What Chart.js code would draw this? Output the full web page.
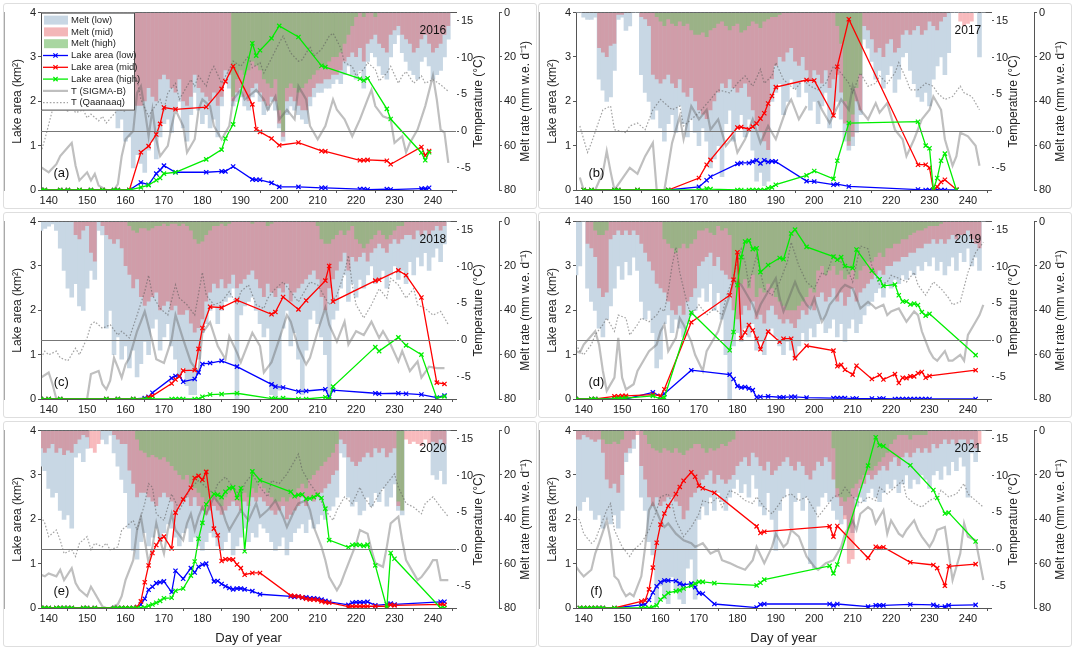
<!DOCTYPE html>
<html>
<head>
<meta charset="utf-8">
<script src="https://cdn.jsdelivr.net/npm/chart.js@4.4.1/dist/chart.umd.min.js"></script>
<style>
  html, body { margin: 0; padding: 0; background: #fff; }
  body { width: 1073px; height: 648px; position: relative; overflow: hidden; }
  .panel { position: absolute; border: 1px solid #dedede; border-radius: 3px; }
  .panel canvas { display: block; }
</style>
</head>
<body>
<div class="panel" style="left:3px;top:3px"><canvas id="c2016" width="532" height="204"></canvas></div>
<div class="panel" style="left:538px;top:3px"><canvas id="c2017" width="532" height="204"></canvas></div>
<div class="panel" style="left:3px;top:212px"><canvas id="c2018" width="532" height="204"></canvas></div>
<div class="panel" style="left:538px;top:212px"><canvas id="c2019" width="532" height="204"></canvas></div>
<div class="panel" style="left:3px;top:421px"><canvas id="c2020" width="532" height="224"></canvas></div>
<div class="panel" style="left:538px;top:421px"><canvas id="c2021" width="532" height="224"></canvas></div>
<script>
// ---- daily melt bars (mm w.e. per day), one value per day 138..244 ----
const BAR_DAYS = [
  138,139,140,141,142,143,144,145,146,147,
  148,149,150,151,152,153,154,155,156,157,
  158,159,160,161,162,163,164,165,166,167,
  168,169,170,171,172,173,174,175,176,177,
  178,179,180,181,182,183,184,185,186,187,
  188,189,190,191,192,193,194,195,196,197,
  198,199,200,201,202,203,204,205,206,207,
  208,209,210,211,212,213,214,215,216,217,
  218,219,220,221,222,223,224,225,226,227,
  228,229,230,231,232,233,234,235,236,237,
  238,239,240,241,242,243,244];

const MELT_LOW_2016 = [
  20,25,30,15,10,30,25,20,35,30, 20,15,25,30,35,30,20,40,35,38,
  52,48,58,56,70,64,68,72,62,58, 66,56,50,48,54,44,40,52,58,46,
  36,44,50,46,52,48,56,42,30,34, 42,40,38,42,44,38,36,40,46,44,
  40,44,52,58,46,42,44,46,48,50, 42,38,36,36,34,34,32,30,32,28,
  24,28,30,26,34,22,18,20,24,28, 30,20,14,10,18,22,26,28,30,22,
  20,24,30,28,26,20,12];
const MELT_MID_2016 = [
  5,8,10,6,4,10,8,6,12,10, 6,5,8,10,12,10,6,14,12,14,
  30,30,35,40,42,42,42,40,34,38, 40,30,28,30,34,36,30,40,42,38,
  28,34,36,38,40,36,42,38,26,28, 40,36,34,38,40,34,32,36,40,42,
  38,40,50,56,40,38,40,42,44,44, 38,34,32,32,30,30,28,28,26,22,
  20,18,20,16,22,14,12,10,14,16, 18,10,8,6,10,12,14,18,16,12,
  10,14,18,16,14,10,6];
const MELT_HIGH_2016 = [
  0,0,0,0,0,0,0,0,0,0, 0,0,0,0,0,0,0,0,0,0,
  0,0,0,0,0,0,0,0,0,0, 0,0,0,0,0,0,0,0,0,0,
  0,0,0,0,0,0,0,0,0,0, 38,30,26,28,26,22,24,26,30,32,
  34,30,44,54,34,32,34,36,34,32, 30,28,26,24,24,22,20,20,18,14,
  10,6,2,0,2,0,0,2,0,0, 0,0,0,0,0,0,0,0,0,0,
  0,0,0,0,0,0,0];

const MELT_LOW_2017 = [
  0,0,2,3,3,2,30,35,40,38, 26,3,2,8,6,0,0,28,36,40,
  48,44,52,58,50,46,54,42,50,56, 48,54,60,52,58,70,66,60,74,50,
  44,58,52,46,56,48,62,76,72,78, 76,40,36,32,46,40,30,34,38,30,
  36,44,40,50,42,36,52,44,40,48, 58,62,60,54,46,12,16,22,30,26,
  34,28,24,36,30,20,18,26,32,38, 40,36,42,30,24,20,28,18,0,0,
  0,0,0,0,0,20,0];
const MELT_MID_2017 = [
  0,0,0,0,0,0,16,18,20,15, 14,1,1,0,0,0,0,2,3,6,
  28,30,32,30,28,32,34,30,36,38, 34,40,44,46,48,44,40,36,32,34,
  30,34,36,34,32,38,44,50,54,58, 62,30,24,20,22,18,16,22,24,20,
  26,30,26,28,32,26,34,30,28,36, 50,60,56,40,44,6,8,12,18,16,
  20,14,12,18,16,10,8,10,8,6, 10,8,4,6,8,4,2,0,0,0,
  4,6,5,4,0,0,0];
const MELT_HIGH_2017 = [
  0,0,0,0,0,0,0,0,0,0, 0,0,0,0,0,0,0,0,0,0,
  0,2,4,6,3,5,6,4,6,5, 8,10,10,9,11,8,7,5,4,6,
  8,6,5,9,8,6,4,5,7,4, 3,2,2,1,0,0,0,0,0,0,
  0,0,0,0,0,0,0,0,6,14, 40,58,46,34,28,0,0,0,0,0,
  0,0,0,0,0,0,0,0,0,0, 0,0,0,0,0,0,0,0,0,0,
  0,0,0,0,0,0,0];

const MELT_LOW_2018 = [
  4,3,2,1,4,12,22,30,34,28, 38,40,30,22,26,4,6,48,40,60,
  52,62,56,66,58,70,64,54,60,48, 44,58,52,46,56,62,70,66,74,78,
  78,62,50,46,40,38,46,40,36,34, 30,80,42,38,36,34,40,46,52,48,
  78,80,76,48,40,56,50,62,78,58, 44,40,46,52,60,78,44,40,30,24,
  36,28,34,26,30,24,20,28,26,22, 30,24,20,26,22,28,18,24,16,20,
  14,22,16,12,18,10,0];
const MELT_MID_2018 = [
  0,0,0,0,0,0,0,0,0,6, 8,4,2,14,18,0,2,6,8,10,
  8,12,20,24,30,26,34,38,36,34, 32,40,38,36,40,38,42,42,40,46,
  50,48,44,36,32,28,30,26,30,28, 24,30,28,26,24,22,26,30,34,28,
  32,34,30,32,28,36,32,30,28,26, 24,22,26,34,40,30,26,22,18,14,
  22,16,18,16,14,18,14,12,10,12, 14,10,8,10,8,6,6,8,4,6,
  4,6,4,2,4,2,0];
const MELT_HIGH_2018 = [
  0,0,0,0,0,0,0,0,0,0, 0,0,0,0,0,0,0,0,0,0,
  0,0,0,2,4,5,3,3,4,3, 2,2,1,2,1,1,2,1,2,4,
  8,10,9,6,4,2,2,1,2,1, 0,0,0,0,0,1,0,0,0,2,
  1,0,0,0,0,0,0,0,0,0, 0,0,2,8,10,10,8,6,4,6,
  4,2,8,10,12,10,8,6,4,6, 8,6,4,2,2,0,0,0,0,0,
  0,0,0,0,0,0,0];

const MELT_LOW_2019 = [
  24,20,0,30,36,40,48,52,44,38, 30,20,26,18,24,16,22,36,44,40,
  50,66,62,46,42,50,44,48,52,46, 42,40,34,30,36,28,40,32,44,60,
  80,56,50,54,48,52,46,58,54,60, 50,48,52,56,60,54,58,62,56,50,
  54,48,52,46,44,50,48,44,52,46, 54,48,44,50,46,42,38,36,32,30,
  34,28,30,26,28,24,26,22,24,20, 22,18,20,16,22,18,24,20,16,22,
  14,18,12,20,16,22,0];
const MELT_MID_2019 = [
  0,0,0,10,12,16,30,34,32,8, 6,4,6,4,6,4,6,10,14,18,
  22,28,30,32,36,40,42,38,42,36, 34,30,20,18,16,14,20,16,22,24,
  26,40,44,42,38,40,36,44,42,46, 40,38,42,44,46,44,46,48,44,40,
  42,38,40,34,32,36,34,30,36,32, 38,34,30,36,32,30,28,26,24,22,
  24,20,20,18,18,16,16,14,14,12, 12,10,10,8,10,8,10,8,6,8,
  6,6,4,8,10,12,0];
const MELT_HIGH_2019 = [
  0,0,0,0,0,4,6,6,4,0, 0,0,0,0,0,0,0,0,0,0,
  0,0,0,8,10,12,14,12,10,12, 10,8,4,4,3,5,6,2,4,3,
  6,26,30,28,26,30,24,34,30,32, 28,30,34,36,38,40,40,40,38,36,
  34,30,32,22,20,24,22,20,24,22, 26,24,20,26,22,20,18,18,16,14,
  16,12,12,10,10,8,8,6,5,4, 4,3,2,2,2,1,0,0,0,0,
  0,0,0,0,0,0,0];

const MELT_LOW_2020 = [
  16,18,26,30,28,36,40,38,44,12, 10,14,8,0,0,0,4,6,2,10,
  16,22,28,44,54,58,50,46,52,48, 44,50,46,42,44,48,52,46,44,50,
  48,52,54,50,46,48,52,54,50,46, 56,52,48,44,50,46,48,42,44,46,
  50,54,52,48,56,50,46,44,42,46, 40,44,42,38,40,36,34,30,10,12,
  30,34,32,38,36,30,34,28,32,26, 34,30,24,36,38,0,0,0,0,0,
  0,0,20,22,18,24,0];
const MELT_MID_2020 = [
  8,10,8,6,10,8,11,9,10,6, 4,2,3,8,10,6,0,0,0,2,
  4,6,6,18,24,30,28,28,30,32, 34,30,28,30,32,36,34,32,30,34,
  30,34,36,38,36,34,36,38,36,34, 32,34,36,32,34,30,32,30,32,34,
  36,38,36,34,40,38,36,34,30,34, 30,32,30,28,26,24,20,18,4,6,
  12,14,16,14,12,10,12,8,10,8, 12,10,8,34,36,4,6,5,6,7,
  4,6,5,6,4,6,0];
const MELT_HIGH_2020 = [
  0,0,0,0,0,0,0,0,0,0, 0,0,0,0,0,0,0,0,0,0,
  0,0,0,0,0,4,9,10,12,11, 12,13,12,14,16,18,20,22,20,24,
  26,28,30,32,30,28,32,34,30,28, 26,30,32,28,30,26,28,24,26,28,
  30,32,32,30,32,30,28,26,24,26, 22,20,18,16,14,12,10,6,0,0,
  0,0,0,0,0,0,0,0,0,0, 0,0,0,32,36,0,0,0,0,0,
  0,0,0,0,0,0,0];

const MELT_LOW_2021 = [
  34,36,32,30,36,40,38,44,40,42, 38,44,36,14,10,8,0,30,36,50,
  56,78,70,76,78,66,72,76,78,62, 58,76,40,34,38,30,36,28,32,36,
  30,26,22,28,24,30,20,26,34,38, 28,40,54,36,30,26,44,32,28,36,
  30,60,62,34,30,28,32,36,40,42, 38,44,46,34,30,32,28,26,30,32,
  28,24,26,22,28,24,20,26,22,24, 20,22,26,20,18,22,16,20,14,18,
  12,16,30,10,14,0,0];
const MELT_MID_2021 = [
  4,4,2,3,4,5,4,10,22,26, 24,28,20,10,8,4,2,16,22,30,
  34,30,34,32,30,30,32,34,40,36, 30,28,26,22,20,18,24,20,22,24,
  22,20,16,14,12,16,10,12,16,18, 14,20,18,16,14,12,16,18,14,16,
  20,22,18,14,16,12,14,22,30,34, 40,60,58,30,26,24,20,22,20,18,
  16,18,14,12,16,12,10,12,10,8, 10,8,10,6,8,6,4,6,4,6,
  4,4,6,4,8,6,0];
const MELT_HIGH_2021 = [
  0,0,0,0,0,0,0,4,6,6, 5,6,4,0,0,0,0,0,2,6,
  8,9,10,8,9,10,8,10,11,9, 8,6,6,8,10,8,9,8,6,7,
  5,4,0,0,0,0,0,0,0,0, 0,0,0,0,0,0,0,0,0,0,
  0,0,0,0,0,0,0,8,26,30, 32,30,26,24,22,20,18,18,16,14,
  12,10,6,4,2,2,2,4,2,2, 2,2,0,0,0,0,0,0,0,0,
  0,0,0,0,0,0,0];

// ---- lake area (km2) on observation days ----
const LAKE_DAYS_2016 = [138,139,143,145,148,151,154,157,158,161,164,166,168,169,170,173,181,185,186,188,193,194,195,198,200,205,211,212,221,222,223,228,229,237,238,239];
const LAKE_LOW_2016  = [0,0,0,0,0,0,0,0,0,0,0.17,0.12,0.37,0.45,0.55,0.40,0.40,0.42,0.42,0.53,0.24,0.23,0.23,0.16,0.07,0.07,0.05,0.05,0.02,0.02,0.01,0.02,0.01,0.03,0.03,0.05];
const LAKE_MID_2016  = [0,0,0,0,0,0,0,0,0,0,0.85,0.99,1.25,1.49,1.86,1.82,1.87,2.28,2.45,2.79,1.93,1.37,1.31,1.16,1.01,1.07,0.88,0.87,0.67,0.67,0.68,0.66,0.58,0.97,0.78,0.88];
const LAKE_HIGH_2016 = [0,0,0,0,0,0,0,0,0,0,0.06,0.11,0.22,0.27,0.37,0.40,0.69,0.91,1.16,1.48,3.31,3.03,3.15,3.42,3.70,3.45,2.80,2.77,2.51,2.47,2.52,1.83,1.60,0.84,0.67,0.85];

const LAKE_DAYS_2017 = [140,142,148,149,154,162,170,172,173,180,181,183,184,185,186,187,188,189,190,198,200,205,206,209,227,229,230,231,232,233,234,237];
const LAKE_LOW_2017  = [0,0,0,0,0,0,0.07,0.22,0.30,0.59,0.61,0.61,0.64,0.67,0.60,0.67,0.63,0.65,0.64,0.20,0.19,0.12,0.13,0.08,0.01,0,0,0,0,0,0,0];
const LAKE_MID_2017  = [0,0,0,0,0,0,0.27,0.57,0.68,1.41,1.42,1.37,1.43,1.50,1.61,1.73,1.95,2.12,2.32,2.48,2.47,1.68,2.78,3.85,0.57,0.57,0.50,0,0.07,0.18,0.23,0.01];
const LAKE_HIGH_2017 = [0,0,0,0,0,0,0,0.03,0.02,0,0,0,0,0,0,0,0.04,0.06,0.12,0.33,0.43,0.25,0.66,1.51,1.54,1.00,0.94,0.01,0.27,0.66,0.82,0];

const LAKE_DAYS_2018 = [138,140,143,155,158,162,165,166,167,172,173,174,175,178,179,180,182,185,189,198,199,201,205,207,212,213,214,225,226,231,233,237,241,243];
const LAKE_LOW_2018  = [0,0,0,0,0,0,0.02,0.05,0.14,0.47,0.52,0.52,0.39,0.45,0.60,0.79,0.81,0.86,0.73,0.33,0.28,0.26,0.17,0.18,0.22,0.04,0.20,0.13,0.12,0.13,0.12,0.10,0.03,0.08];
const LAKE_MID_2018  = [0,0,0,0,0,0,0,0.04,0.07,0.35,0.44,0.51,0.64,0.65,1.13,1.60,2.08,2.06,2.23,1.91,1.96,2.30,2.02,2.22,2.67,3.00,2.20,2.67,2.69,2.90,2.79,2.29,0.37,0.34];
const LAKE_HIGH_2018 = [0,0,0,0,0,0,0,0,0,0,0,0,0,0,0,0.05,0.10,0.11,0.13,0.01,0.01,0.02,0,0,0.04,0,0.28,1.17,1.08,1.39,1.21,1.00,0.02,0.06];

const LAKE_DAYS_2019 = [138,142,143,148,149,150,151,158,160,161,168,178,179,180,181,182,183,184,185,186,188,191,192,194,195,198,205,206,207,208,210,211,215,217,218,221,222,223,224,225,226,227,228,229,230,242];
const LAKE_LOW_2019  = [0,0,0,0,0,0,0,0.15,0.06,0.12,0.65,0.55,0.45,0.29,0.26,0.27,0.24,0.20,0.04,0.05,0.06,0.04,0.04,0.05,0.05,0.03,0.02,0.02,0.02,0.02,0.01,0.01,0.01,0.01,0.01,0,0,0,0,0,0,0,0,0,0,0];
const LAKE_MID_2019  = [0,0,0,0.06,0.06,0.07,0.07,0.10,0.07,0.22,1.73,2.34,2.69,3.31,1.37,1.50,1.67,1.55,1.36,1.12,1.52,1.29,1.36,1.36,0.92,1.20,1.09,0.74,0.77,0.66,0.55,0.75,0.45,0.54,0.44,0.56,0.36,0.48,0.47,0.51,0.51,0.58,0.61,0.48,0.52,0.65];
const LAKE_HIGH_2019 = [0,0,0,0,0.01,0.01,0.02,0.07,0,0.03,1.95,1.10,1.51,2.57,3.20,3.55,3.57,3.38,3.40,2.86,3.02,3.18,3.15,3.73,3.82,3.43,3.21,3.14,3.20,3.00,2.95,3.37,2.89,2.70,2.55,2.58,2.34,2.20,2.20,2.13,2.15,2.12,1.96,1.88,1.92,0.99];

const LAKE_DAYS_2020 = [138,139,140,142,143,144,145,146,149,150,152,157,158,159,160,161,162,163,164,165,166,167,168,169,170,172,173,175,177,178,179,180,181,183,184,185,186,187,188,189,190,191,193,195,203,204,205,206,207,208,209,210,211,212,213,218,219,220,221,222,223,225,228,229,230,242,243];
const LAKE_LOW_2020  = [0,0,0,0,0,0,0,0,0,0,0,0,0,0,0,0,0,0.02,0.08,0.21,0.41,0.48,0.56,0.58,0.60,0.36,0.84,0.66,0.90,0.80,0.93,0.98,1.00,0.60,0.61,0.54,0.49,0.45,0.42,0.44,0.44,0.42,0.38,0.31,0.26,0.25,0.26,0.23,0.24,0.22,0.22,0.21,0.19,0.16,0.14,0.07,0.12,0.13,0.13,0.13,0.14,0.06,0.08,0.10,0.08,0.14,0.14];
const LAKE_MID_2020  = [0,0,0,0,0,0,0,0,0,0,0,0,0,0,0,0,0,0.02,0.15,0.58,0.96,1.24,1.42,1.55,1.61,1.34,2.15,2.45,2.71,2.93,2.98,2.89,3.07,1.79,1.64,1.06,1.10,1.10,1.09,0.98,0.90,0.75,0.79,0.79,0.28,0.27,0.26,0.24,0.21,0.19,0.19,0.18,0.15,0.13,0.12,0.03,0.04,0.04,0.04,0.04,0.04,0.04,0.04,0.07,0.06,0.08,0.07];
const LAKE_HIGH_2020 = [0,0,0,0,0,0,0,0,0,0,0,0,0,0,0,0,0,0,0,0.01,0.05,0.08,0.12,0.16,0.22,0.23,0.39,0.44,0.73,1.05,1.56,1.92,2.34,2.57,2.55,2.50,2.62,2.70,2.72,2.48,2.70,1.28,3.08,2.88,2.62,2.52,2.55,2.56,2.46,2.47,2.50,2.55,2.48,2.24,1.53,1.37,1.42,1.43,1.42,1.40,1.43,0.96,0,1.24,1.11,0,0];

const LAKE_DAYS_2021 = [139,140,141,142,143,144,145,148,155,156,157,158,159,160,161,162,164,165,166,168,169,170,171,174,185,186,187,204,205,206,214,216,217,218,225,231,232,234,235,242];
const LAKE_LOW_2021  = [0,0,0,0,0,0,0,0,0.07,0.08,0.18,0.35,0.49,0.58,0.62,0.62,0.61,0.55,0.52,0.55,0.47,0.34,0.32,0.09,0.01,0.08,0.09,0.09,0.06,0.09,0.03,0.06,0.06,0.06,0.08,0.07,0.04,0.03,0.06,0.07];
const LAKE_MID_2021  = [0,0,0,0,0,0,0,0,0.15,0.17,0.42,0.91,1.47,1.88,2.13,2.30,2.57,2.73,2.87,3.06,2.96,2.76,2.70,2.60,1.84,1.69,1.72,1.84,1.61,1.85,1.13,1.38,1.36,1.37,1.03,0.97,0.90,0.50,0.94,0.99];
const LAKE_HIGH_2021 = [0,0,0,0,0,0,0,0,0,0,0,0.02,0.06,0.19,0.26,0.34,0.38,0.40,0.44,0.50,0.55,0.59,0.59,0.56,0.51,0.57,0.64,0.95,0.78,0.98,3.21,3.85,3.67,3.65,3.22,2.66,2.48,2.13,2.15,1.50];

// ---- air temperature (deg C): SIGMA-B station and Qaanaaq ----
const TS_DAYS_2016 = [138,140,142,143,145,146,147,148,150,151,152,153,155,157,158,159,160,162,163,164,165,166,167,168,169,171,172,173,175,176,178,179,180,182,183,185,187,188,190,191,192,194,196,197,199,200,202,204,205,207,208,210,212,214,215,217,219,221,223,224,225,227,229,230,232,233,234,236,238,240,241,242,243,244];
const TS_2016 = [-4.9,-5.6,-4.5,-3.4,-2.2,-1.6,-4.7,-6.7,-5.6,-6.7,-5.8,-7.4,-8.0,-8.0,-7.2,-3.4,-1.1,0.0,5.2,6.1,2.9,-0.7,2.9,-1.1,-3.4,-2.0,0.7,2.9,0.7,-2.9,-1.1,2.9,4.3,3.4,0.7,-1.1,0.7,4.3,5.6,4.3,4.7,5.6,4.3,2.9,4.7,1.6,2.9,1.6,6.1,4.3,0.7,-1.1,0.7,4.3,2.9,1.6,-0.7,1.6,4.3,5.6,3.4,2.0,1.6,-1.6,-0.7,-2.9,-1.6,0.2,3.4,7.5,4.3,0.2,-0.2,-4.3];
const TQ_DAYS_2016 = [138,139,141,142,143,145,146,147,149,150,151,153,154,155,157,158,160,161,162,163,164,166,167,169,170,171,173,174,175,177,178,179,181,182,183,185,187,188,190,192,193,195,196,198,200,201,203,205,206,208,209,211,213,214,216,217,219,220,222,223,225,226,228,229,231,232,233,235,237,238,240,242,244];
const TQ_2016 = [-2.9,-1.1,2.9,3.8,3.4,2.7,3.4,2.5,2.9,1.8,2.3,1.4,2.0,1.1,2.3,2.9,2.7,4.3,6.5,7.0,4.3,2.0,2.9,4.3,2.9,5.2,6.5,4.3,5.2,7.0,6.1,7.5,6.1,7.9,8.8,6.5,8.4,9.5,8.8,10.2,8.6,9.3,7.9,9.9,12.0,12.9,10.6,9.5,9.7,11.5,10.2,11.1,12.9,13.3,11.3,9.3,8.8,7.5,8.4,9.3,8.4,6.8,7.9,8.8,6.5,7.5,8.1,6.5,7.5,6.5,7.0,6.3,5.4];

const TS_DAYS_2017 = [139,140,143,145,146,147,148,150,152,154,156,158,159,161,163,165,166,168,170,172,173,175,177,179,180,182,184,186,188,190,193,194,196,198,199,201,202,204,207,209,210,212,214,216,217,219,221,223,224,226,228,230,231,233,234,236,237,238,240,242,243];
const TS_2017 = [-6.3,-8.0,-8.0,-5.6,-2.7,-5.5,-8.0,-6.5,-5.0,-5.8,-3.4,-1.6,-8.0,-8.0,-1.6,2.0,-1.1,3.4,1.6,2.9,0.2,1.6,-2.0,-0.7,-2.9,-1.1,1.6,-1.6,0.7,-1.1,3.4,4.3,1.6,3.4,null,4.1,2.9,1.1,4.3,2.9,6.1,2.9,1.6,3.8,2.5,3.8,0.2,-1.1,-3.4,-1.1,1.6,2.9,4.7,2.9,-1.1,-4.7,-3.4,-0.2,-0.7,-2.0,-4.7];
const TQ_DAYS_2017 = [139,141,142,145,147,148,151,152,154,156,158,160,163,165,166,168,170,173,175,178,180,182,184,186,187,189,190,192,195,197,199,201,203,205,207,209,210,212,214,216,217,219,221,222,224,225,227,229,231,232,234,236,238,239,241,243];
const TQ_2017 = [0.7,-2.9,-1.6,2.9,3.4,0.2,-0.2,0.7,1.1,0.2,2.9,4.3,2.9,3.4,0.7,1.6,2.5,4.3,5.6,5.2,6.5,7.5,6.1,8.4,6.5,7.5,9.3,7.0,5.6,7.0,6.1,5.6,6.5,8.8,7.9,6.5,5.2,7.9,6.1,6.5,7.5,6.5,7.9,9.3,7.0,5.6,5.6,6.5,6.1,5.2,4.3,4.7,6.1,5.2,4.7,2.9];

const TS_DAYS_2018 = [138,140,141,142,150,151,153,154,155,156,157,158,159,160,161,162,163,164,165,167,168,170,172,173,175,177,179,180,182,184,186,187,189,190,193,195,196,198,200,202,203,205,207,208,210,212,213,215,217,218,220,222,224,226,227,229,231,232,234,236,237,239,241,243];
const TS_2018 = [-5.1,-4.4,-6.0,-8.0,-8.0,-4.6,-4.2,-6.0,-6.7,-5.5,-2.4,-3.7,-5.1,-3.3,-2.4,-0.6,1.2,2.5,3.9,-0.2,-2.6,-3.1,0.1,3.4,0.1,-3.0,-4.4,1.0,2.4,-0.8,-2.6,0.5,-1.7,-3.0,1.0,-0.8,-4.4,-3.0,0.1,3.4,2.5,-1.1,-3.3,-2.4,1.2,4.4,2.1,-0.2,2.5,-0.6,1.2,0.7,2.5,0.3,1.2,-0.6,-2.9,-1.5,-4.2,-2.9,-5.1,-3.6,-3.8,-3.8];
const TQ_DAYS_2018 = [138,139,140,142,143,145,147,148,150,151,152,154,156,158,159,161,163,165,166,167,169,171,173,174,176,178,180,181,183,185,187,189,190,192,194,196,197,199,201,203,205,206,208,210,212,213,215,217,218,219,220,222,224,226,228,229,231,233,235,236,238,240,242,244];
const TQ_2018 = [-2.4,-1.5,-2.0,-1.5,-2.4,-2.8,-1.1,-2.0,0.3,2.1,2.5,1.6,2.1,0.7,1.2,0.3,3.4,6.6,8.8,6.1,4.3,3.4,7.5,5.7,4.8,3.4,9.2,6.1,4.8,5.2,6.6,4.8,6.6,7.5,4.8,4.3,5.7,7.0,7.9,6.6,5.2,6.1,7.9,7.5,5.7,4.8,6.1,9.2,11.5,7.5,4.8,3.0,4.8,7.0,5.7,8.4,7.5,5.7,7.0,4.8,4.3,3.4,3.9,2.1];

const TS_DAYS_2019 = [138,139,140,143,144,145,146,148,149,150,151,153,154,156,157,159,160,161,162,164,165,166,168,169,171,172,173,175,176,178,179,181,182,184,185,186,188,190,191,192,193,195,196,198,199,200,202,203,204,206,207,208,210,211,212,214,215,216,218,219,220,222,223,224,226,227,228,230,231,232,234,235,236,238,239,240,242,243,244];
const TS_2019 = [-1.5,-1.7,-0.6,1.2,-0.6,-4.2,-6.9,-5.1,0.3,-5.1,-6.7,-6.0,-4.2,-2.4,-1.5,-0.6,1.2,2.1,-1.5,0.3,3.0,2.1,-0.2,-2.0,-4.2,-1.5,-0.6,1.2,3.0,6.1,8.1,7.5,6.6,4.8,3.4,4.8,6.6,8.4,5.7,3.9,5.2,7.9,6.6,4.8,4.3,5.7,2.5,3.4,4.8,6.1,7.0,7.5,7.0,5.7,4.3,5.2,4.8,4.3,4.8,3.4,3.9,4.3,3.4,2.5,3.9,3.4,1.2,-1.5,-2.4,-2.8,-1.5,-2.8,-2.8,-2.0,-2.8,0.7,2.5,3.4,4.8];
const TQ_DAYS_2019 = [138,139,140,142,143,145,146,148,149,151,152,154,155,157,159,160,161,162,163,164,165,167,168,170,172,174,176,177,179,181,182,183,185,186,187,189,191,193,194,196,198,200,202,203,205,207,209,210,212,214,215,217,219,220,222,224,226,227,229,231,233,235,236,238,240,242,244];
const TQ_2019 = [-0.6,-1.5,-2.0,-0.6,0.7,2.1,3.0,1.2,3.4,3.0,0.7,2.1,3.0,2.5,3.4,4.3,3.9,6.6,10.1,12.6,9.2,4.8,3.4,4.8,3.4,4.3,3.4,5.7,8.8,12.4,10.6,7.5,11.5,9.2,7.0,6.1,7.9,10.6,13.3,10.1,7.9,7.0,9.2,8.8,11.5,10.6,9.2,7.9,12.8,12.4,10.1,7.5,7.9,8.8,8.4,7.9,9.2,7.5,6.1,7.9,7.0,5.7,4.8,5.2,9.2,11.9,13.3];

const TS_DAYS_2020 = [138,139,140,142,143,144,146,147,148,150,151,152,154,155,156,158,159,160,162,163,164,165,166,167,168,169,170,171,172,173,175,176,177,178,179,180,181,183,185,186,187,189,190,192,194,195,197,199,201,202,204,205,207,208,209,211,212,213,215,216,217,219,220,221,223,224,225,227,228,229,231,232,233,235,236,237,239,240,241,242,244];
const TS_2020 = [-3.5,-3.7,-3.3,-3.7,-2.8,-4.2,-2.6,-4.6,-5.5,-6.4,-5.1,-6.0,-7.8,-8.0,-8.0,-7.5,-6.4,-4.2,-1.5,2.6,4.4,1.2,-1.9,0.3,3.5,1.2,-0.6,2.6,4.8,2.6,1.2,3.5,4.8,2.6,4.4,5.7,4.8,7.1,5.7,3.9,2.6,4.4,5.3,3.9,6.2,4.4,5.3,6.6,4.4,3.0,5.3,6.2,6.6,5.3,3.0,0.3,-1.5,-3.8,-5.6,-4.7,-3.3,-0.6,0.7,2.6,2.1,-0.1,-1.9,-2.4,0.3,3.5,4.4,1.2,-1.5,-3.3,-4.2,-3.8,-2.4,-1.5,-1.5,-4.2,-4.2];
const TQ_DAYS_2020 = [138,139,140,142,143,144,146,147,148,150,151,152,154,155,156,158,159,160,162,163,165,166,167,168,170,171,172,174,175,177,179,181,183,184,186,188,190,191,193,195,197,198,200,202,204,205,206,208,210,212,214,215,217,219,221,222,224,226,228,230,231,233,235,237,238,240,242,244];
const TQ_2020 = [4.4,3.5,1.7,2.6,1.2,-0.6,-0.1,-1.0,0.8,1.7,-0.1,0.8,0.3,0.8,-0.1,0.3,2.6,3.0,3.9,2.6,6.2,8.9,8.4,4.8,3.9,5.7,7.5,5.3,6.2,8.4,9.3,8.4,7.5,8.9,9.8,8.4,7.1,8.9,10.2,8.4,7.1,9.3,8.9,10.2,12.0,12.9,10.7,8.9,7.5,5.3,3.9,5.3,7.1,6.2,8.4,7.1,5.7,7.5,8.9,10.2,8.4,6.2,5.7,4.8,6.2,7.1,5.7,4.4];

const TS_DAYS_2021 = [138,139,140,142,143,144,146,147,148,149,150,151,152,153,155,156,157,158,160,161,162,164,166,168,169,171,173,175,176,178,180,182,184,185,187,189,190,192,193,194,196,198,200,201,203,205,207,208,210,211,212,214,215,216,218,219,220,222,223,224,226,227,228,230,231,232,234,235,236,238,239,240,242,243,244];
const TS_2021 = [-2.4,-3.1,-3.7,-2.8,-0.6,0.8,3.9,1.2,-3.7,-4.2,-5.5,-6.4,-6.0,-6.4,-3.7,0.3,5.3,6.2,3.9,3.0,3.5,2.1,1.2,0.8,0.3,0.8,-0.6,-0.1,-1.5,-1.9,-2.4,-2.8,-1.5,0.3,-1.9,0.3,2.1,0.3,0.8,2.6,1.7,-1.0,-2.4,-2.8,-1.9,-1.5,0.3,2.1,3.9,2.6,4.8,5.7,5.3,3.5,5.3,2.1,3.9,2.1,1.7,2.6,3.9,2.6,1.7,0.3,1.2,2.6,3.0,-0.6,-4.2,-0.6,3.5,1.7,1.2,-1.5,-4.2];
const TQ_DAYS_2021 = [138,139,140,142,143,144,146,147,148,150,152,153,155,157,159,160,162,163,164,166,168,170,171,173,175,176,178,180,182,184,185,187,189,191,192,194,196,198,200,201,203,205,207,208,210,212,214,216,217,219,221,223,224,226,228,230,232,233,235,237,239,240,242,244];
const TQ_2021 = [4.4,3.9,2.1,0.8,1.2,2.6,5.3,6.2,2.6,0.3,-1.0,-0.1,0.8,2.6,5.3,7.1,7.5,6.2,3.9,1.7,3.0,4.8,6.6,6.2,7.1,5.7,8.0,7.5,6.6,6.2,7.1,5.7,4.8,6.2,7.1,7.5,6.6,7.1,5.3,4.4,5.7,7.1,7.5,8.4,7.1,6.2,7.1,6.6,8.4,7.5,8.4,9.3,7.1,6.2,5.7,6.6,7.1,8.0,7.1,7.5,8.9,7.5,6.6,5.7];

// where the year and panel letter sit, in (day, lake area) units
const YEAR_AT = [240, 3.6];
const TAG_AT = [143.3, 0.37];

const PANELS = [
  { canvas: 'c2016', year: '2016', tag: '(a)', legend: true,  low: MELT_LOW_2016, mid: MELT_MID_2016, high: MELT_HIGH_2016,
    lakeDays: LAKE_DAYS_2016, lakeLow: LAKE_LOW_2016, lakeMid: LAKE_MID_2016, lakeHigh: LAKE_HIGH_2016,
    tsDays: TS_DAYS_2016, ts: TS_2016, tqDays: TQ_DAYS_2016, tq: TQ_2016 },
  { canvas: 'c2017', year: '2017', tag: '(b)', legend: false, low: MELT_LOW_2017, mid: MELT_MID_2017, high: MELT_HIGH_2017,
    lakeDays: LAKE_DAYS_2017, lakeLow: LAKE_LOW_2017, lakeMid: LAKE_MID_2017, lakeHigh: LAKE_HIGH_2017,
    tsDays: TS_DAYS_2017, ts: TS_2017, tqDays: TQ_DAYS_2017, tq: TQ_2017 },
  { canvas: 'c2018', year: '2018', tag: '(c)', legend: false, low: MELT_LOW_2018, mid: MELT_MID_2018, high: MELT_HIGH_2018,
    lakeDays: LAKE_DAYS_2018, lakeLow: LAKE_LOW_2018, lakeMid: LAKE_MID_2018, lakeHigh: LAKE_HIGH_2018,
    tsDays: TS_DAYS_2018, ts: TS_2018, tqDays: TQ_DAYS_2018, tq: TQ_2018 },
  { canvas: 'c2019', year: '2019', tag: '(d)', legend: false, low: MELT_LOW_2019, mid: MELT_MID_2019, high: MELT_HIGH_2019,
    lakeDays: LAKE_DAYS_2019, lakeLow: LAKE_LOW_2019, lakeMid: LAKE_MID_2019, lakeHigh: LAKE_HIGH_2019,
    tsDays: TS_DAYS_2019, ts: TS_2019, tqDays: TQ_DAYS_2019, tq: TQ_2019 },
  { canvas: 'c2020', year: '2020', tag: '(e)', legend: false, xTitle: true, low: MELT_LOW_2020, mid: MELT_MID_2020, high: MELT_HIGH_2020,
    lakeDays: LAKE_DAYS_2020, lakeLow: LAKE_LOW_2020, lakeMid: LAKE_MID_2020, lakeHigh: LAKE_HIGH_2020,
    tsDays: TS_DAYS_2020, ts: TS_2020, tqDays: TQ_DAYS_2020, tq: TQ_2020 },
  { canvas: 'c2021', year: '2021', tag: '(f)', legend: false, xTitle: true, low: MELT_LOW_2021, mid: MELT_MID_2021, high: MELT_HIGH_2021,
    lakeDays: LAKE_DAYS_2021, lakeLow: LAKE_LOW_2021, lakeMid: LAKE_MID_2021, lakeHigh: LAKE_HIGH_2021,
    tsDays: TS_DAYS_2021, ts: TS_2021, tqDays: TQ_DAYS_2021, tq: TQ_2021 }
];

// ---- styling ----
const FONT = '"Liberation Sans", Arial, Helvetica, sans-serif';
Chart.defaults.font.family = FONT;
Chart.defaults.color = '#222';

const AXIS = '#555';
const LOW_FILL = '#c8d7e4';
const MID_FILL = 'rgba(230,0,10,0.27)';
const HIGH_FILL = 'rgba(57,217,72,0.35)';

// plot box inside each canvas: left 37, top 8.5, right 452, bottom 186
const W_AREA = 37, W_TEMP = 43, W_MELT = 43, H_TOP = 8.5, PLOT_BOTTOM = 186;

// legend, year, panel letter and the two right-hand axis titles
const panelDecor = {
  id: 'panelDecor',
  afterDatasetsDraw(chart, args, opts) {
    if (!opts.legend) return;
    const {ctx, chartArea} = chart;
    const x0 = chartArea.left, y0 = chartArea.top, w = 94, h = 98;
    ctx.save();
    ctx.fillStyle = '#fff';
    ctx.fillRect(x0, y0, w, h);
    ctx.strokeStyle = '#4a4a4a';
    ctx.lineWidth = 1;
    ctx.strokeRect(x0 + 0.5, y0 + 0.5, w - 1, h - 1);
    ctx.font = '9.5px ' + FONT;
    ctx.textBaseline = 'middle';
    ctx.textAlign = 'left';
    chart.data.datasets
      .filter(d => d.legendRow !== undefined)
      .sort((a, b) => a.legendRow - b.legendRow)
      .forEach((d, i) => {
        const y = y0 + 7.5 + i * 11.8;
        if (d.type === 'bar') {
          ctx.fillStyle = d.swatch;
          ctx.fillRect(x0 + 3, y - 4.5, 24, 9);
        } else {
          ctx.strokeStyle = d.borderColor;
          ctx.lineWidth = d.borderWidth;
          ctx.setLineDash(d.borderDash || []);
          ctx.beginPath();
          ctx.moveTo(x0 + 2, y);
          ctx.lineTo(x0 + 27, y);
          ctx.stroke();
          ctx.setLineDash([]);
          if (d.pointRadius > 0) {
            ctx.lineWidth = d.pointBorderWidth;
            ctx.fillStyle = d.borderColor;
            Chart.helpers.drawPoint(ctx, {pointStyle: d.pointStyle, radius: d.pointRadius, rotation: 0, borderWidth: d.pointBorderWidth}, x0 + 14.5, y);
          }
        }
        ctx.fillStyle = '#222';
        ctx.fillText(d.label, x0 + 30, y);
      });
    ctx.restore();
  },
  afterDraw(chart, args, opts) {
    const {ctx, chartArea: ca} = chart;
    const {x, area, temp, melt} = chart.scales;
    ctx.save();
    ctx.textAlign = 'center';
    ctx.textBaseline = 'middle';
    ctx.fillStyle = '#111';
    ctx.font = '12px ' + FONT;
    ctx.fillText(opts.year, x.getPixelForValue(YEAR_AT[0]), area.getPixelForValue(YEAR_AT[1]));
    ctx.font = '13px ' + FONT;
    ctx.fillText(opts.tag, x.getPixelForValue(TAG_AT[0]), area.getPixelForValue(TAG_AT[1]));
    // right-hand titles read bottom to top
    const midY = (ca.top + ca.bottom) / 2;
    ctx.fillStyle = '#222';
    ctx.font = '12px ' + FONT;
    [['Temperature (°C)', temp.left + 23], ['Melt rate (mm w.e. d⁻¹)', melt.left + 27]].forEach(([text, tx]) => {
      ctx.save();
      ctx.translate(tx, midY);
      ctx.rotate(-Math.PI / 2);
      ctx.fillText(text, 0, 0);
      ctx.restore();
    });
    ctx.restore();
  }
};

const pts = (days, vals) => days.map((d, i) => ({x: d, y: vals[i]}));

function meltBars(label, vals, fill, swatch, order, row) {
  return {
    type: 'bar', label, data: pts(BAR_DAYS, vals), xAxisID: 'x', yAxisID: 'melt',
    backgroundColor: fill, swatch, borderWidth: 0, grouped: false,
    barPercentage: 1, categoryPercentage: 1, inflateAmount: fill === LOW_FILL ? 0.4 : 0,
    order, legendRow: row
  };
}

function lakeLine(label, days, vals, color, order, row) {
  return {
    type: 'line', label, data: pts(days, vals), xAxisID: 'x', yAxisID: 'area',
    borderColor: color, borderWidth: 1.3, tension: 0, fill: false,
    pointStyle: 'crossRot', pointRadius: 3, pointBorderWidth: 1.2,
    pointBorderColor: color, pointBackgroundColor: color,
    order, legendRow: row
  };
}

function tempLine(label, days, vals, color, width, dash, order, row) {
  return {
    type: 'line', label, data: pts(days, vals), xAxisID: 'x', yAxisID: 'temp',
    borderColor: color, borderWidth: width, borderDash: dash, tension: 0, fill: false,
    pointRadius: 0, spanGaps: false, order, legendRow: row
  };
}

const tickFont = {size: 11};

PANELS.forEach(p => {
  const canvas = document.getElementById(p.canvas);
  const bottomH = canvas.height - PLOT_BOTTOM;
  new Chart(canvas, {
    type: 'bar',
    data: {
      datasets: [
        meltBars('Melt (low)',  p.low,  LOW_FILL,  '#c8d7e4', 22, 0),
        meltBars('Melt (mid)',  p.mid,  MID_FILL,  '#f3b6b8', 21, 1),
        meltBars('Melt (high)', p.high, HIGH_FILL, '#a9d6a1', 20, 2),
        tempLine('T (SIGMA-B)', p.tsDays, p.ts, 'rgba(95,95,95,0.4)', 2.2, [], 12, 6),
        tempLine('T (Qaanaaq)', p.tqDays, p.tq, 'rgba(90,90,90,0.55)', 1.2, [1.6, 1.8], 11, 7),
        lakeLine('Lake area (low)',  p.lakeDays, p.lakeLow,  '#0000ff', 3, 3),
        lakeLine('Lake area (mid)',  p.lakeDays, p.lakeMid,  '#ff0000', 2, 4),
        lakeLine('Lake area (high)', p.lakeDays, p.lakeHigh, '#00ee00', 1, 5)
      ]
    },
    options: {
      responsive: false,
      animation: false,
      events: [],
      layout: {padding: 0, autoPadding: false},
      plugins: {
        legend: {display: false},
        tooltip: {enabled: false},
        panelDecor: {legend: p.legend, year: p.year, tag: p.tag}
      },
      scales: {
        x: {
          type: 'linear', position: 'bottom', min: 138, max: 246, offset: false,
          ticks: {stepSize: 10, includeBounds: false, autoSkip: false, maxRotation: 0, font: tickFont, color: '#222', padding: 1},
          grid: {drawOnChartArea: false, tickLength: 3, color: AXIS},
          border: {color: AXIS},
          title: {display: !!p.xTitle, text: 'Day of year', font: {size: 13}, color: '#222', padding: {top: 0, bottom: 0}},
          afterFit: s => { s.height = bottomH; }
        },
        x2: {
          type: 'linear', position: 'top', min: 138, max: 246, offset: false,
          ticks: {display: false, stepSize: 10, includeBounds: false},
          grid: {display: false},
          border: {color: AXIS},
          afterFit: s => { s.height = H_TOP; }
        },
        area: {
          type: 'linear', position: 'left', min: 0, max: 4,
          ticks: {stepSize: 1, font: tickFont, color: '#222', padding: 2},
          grid: {drawOnChartArea: false, tickLength: 3, color: AXIS},
          border: {color: AXIS},
          title: {display: true, text: 'Lake area (km²)', font: {size: 12}, color: '#222', padding: {top: 6, bottom: 0}},
          afterFit: s => { s.width = W_AREA; }
        },
        temp: {
          type: 'linear', position: 'right', min: -8, max: 16.1, weight: 0,
          ticks: {stepSize: 5, includeBounds: false, font: tickFont, color: '#222', padding: 2},
          grid: {
            drawOnChartArea: true, z: 1, tickLength: 3, tickColor: AXIS,
            color: c => (c.tick && c.tick.value === 0) ? '#777' : 'rgba(0,0,0,0)'
          },
          border: {color: AXIS},
          afterFit: s => { s.width = W_TEMP; }
        },
        melt: {
          type: 'linear', position: 'right', min: 0, max: 80, reverse: true, weight: 1,
          ticks: {stepSize: 20, font: tickFont, color: '#222', padding: 2},
          grid: {drawOnChartArea: false, tickLength: 3, color: AXIS},
          border: {color: AXIS},
          afterFit: s => { s.width = canvas.width - 452 - W_TEMP; }
        }
      }
    },
    plugins: [panelDecor]
  });
});
</script>
</body>
</html>
